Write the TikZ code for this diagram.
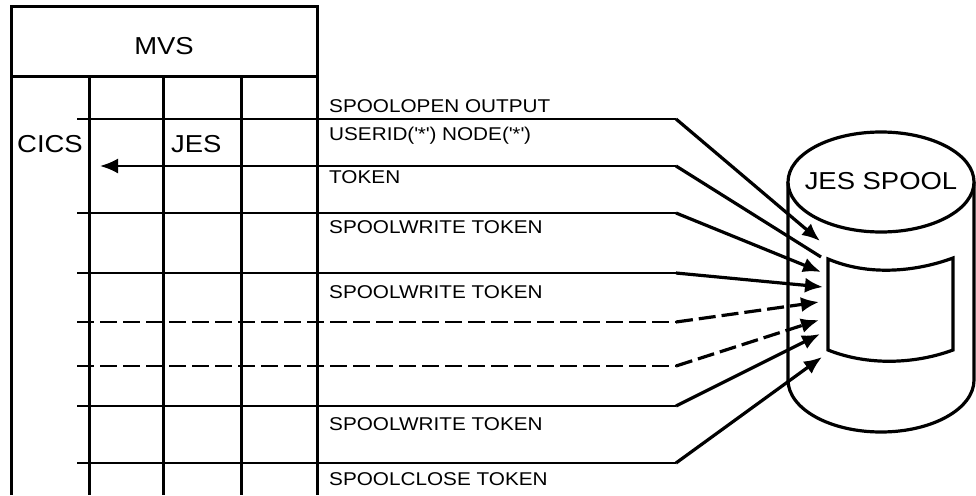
\documentclass[tikz,border=0pt]{standalone}
\usepackage{fontspec}
\setmainfont[FakeStretch=1.12]{Liberation Sans}
\usetikzlibrary{arrows.meta}
\newcommand{\sq}{\textquotesingle}
\begin{document}
\begin{tikzpicture}[x=1pt,y=-1pt,
  gridline/.style={line width=3pt},
  msg/.style={line width=2.3pt},
  diag/.style={line width=3.2pt},
  dashmsg/.style={dash pattern=on 17pt off 6pt},
  tipend/.style={-{Latex[length=18pt,width=15pt]}},
  lbl/.style={font=\fontsize{18.5}{20}\selectfont, inner sep=0pt, anchor=base west},
  big/.style={font=\fontsize{24.5}{28}\selectfont, inner sep=0pt, anchor=base}]
\useasboundingbox (0,0) rectangle (976,495);

% MVS frame and columns
\draw[gridline] (11.5,495) -- (11.5,7) -- (317,7) -- (317,495);
\draw[gridline] (11.5,76) -- (317,76);
\foreach \cx in {89,163,241}
  \draw[gridline] (\cx,76) -- (\cx,495);
\node[big] (mvs) at (164,55) {MVS};
\node[big, anchor=base west] (cics) at (17,152) {CICS};
\node[big, anchor=base west] (jes) at (171,152) {JES};

% start, bend and end points of the requests
\coordinate (s1) at (77,119);   \coordinate (b1) at (676,119);   \coordinate (e1) at (820,241);
\coordinate (s2) at (100,166);  \coordinate (b2) at (676,166);   \coordinate (e2) at (821,257);
\coordinate (s3) at (77,213);   \coordinate (b3) at (676,213);   \coordinate (e3) at (821,272);
\coordinate (s4) at (77,273);   \coordinate (b4) at (676,273);   \coordinate (e4) at (823,287);
\coordinate (s5) at (77,322);   \coordinate (b5) at (676,322);   \coordinate (e5) at (819,302);
\coordinate (s6) at (77,366);   \coordinate (b6) at (676,366);   \coordinate (e6) at (819,320);
\coordinate (s7) at (77,406);   \coordinate (b7) at (676,406);   \coordinate (e7) at (820,334);
\coordinate (s8) at (77,463);   \coordinate (b8) at (676,463);   \coordinate (e8) at (822,357);

% requests to the spool
\foreach \i in {1,3,4,7,8} {
  \draw[msg] (s\i) -- (b\i);
  \draw[diag, tipend] (b\i) -- (e\i);
}
\foreach \i in {5,6} {
  \draw[msg, dashmsg] (s\i) -- (b\i);
  \draw[diag, dashmsg, tipend] (b\i) -- (e\i);
}
% token returned to CICS
\draw[diag] (e2) -- (b2);
\draw[msg, tipend] (b2) -- (s2);

% request labels
\node[lbl] (l1) at (329,112) {SPOOLOPEN OUTPUT};
\node[lbl] (l1b) at (329,140) {USERID(\sq*\sq) NODE(\sq*\sq)};
\node[lbl] (l2) at (329,183) {TOKEN};
\node[lbl] (l3) at (329,233) {SPOOLWRITE TOKEN};
\node[lbl] (l4) at (329,298) {SPOOLWRITE TOKEN};
\node[lbl] (l7) at (329,430) {SPOOLWRITE TOKEN};
\node[lbl] (l8) at (329,485) {SPOOLCLOSE TOKEN};

% JES spool cylinder
\draw[diag] (788,182) -- (788,380) arc[start angle=180, end angle=360, x radius=93pt, y radius=52pt] -- (974,182);
\draw[diag, fill=white] (881,182) ellipse[x radius=93pt, y radius=50pt];
\node[big] (spool) at (881,189) {JES SPOOL};
% data set inside the spool
\draw[diag] (828,259) .. controls (868,276) and (915,272) .. (953,258)
  -- (953,350) .. controls (915,364) and (868,366) .. (828,350) -- cycle;
\end{tikzpicture}
\end{document}
